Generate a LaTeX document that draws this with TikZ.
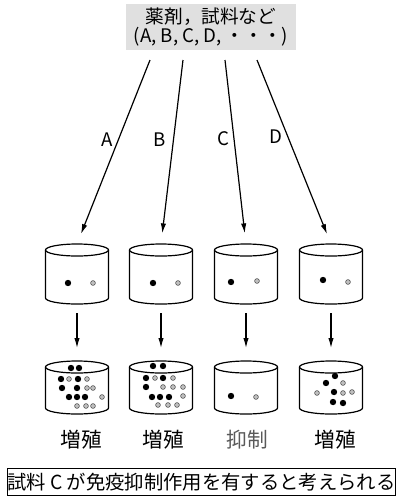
\documentclass[tikz,border=0pt]{standalone}
\usepackage{fontspec}
\setmainfont{Noto Sans CJK JP}
\usetikzlibrary{arrows.meta}

\tikzset{every picture/.style={line width=0.75pt}}

\begin{document}
\begin{tikzpicture}[x=0.75pt,y=0.75pt,yscale=-1,xscale=1,
	vial/.style={line width=0.9pt},
	arr/.style={-{Latex[length=7.5pt,width=4pt]}, line width=0.9pt},
	cell/.style={fill=black},
	spot/.style={draw=black!75, fill=black!25, line width=0.4pt},
	lbl/.style={font=\fontsize{15.5pt}{16pt}\selectfont},
	letter/.style={font=\fontsize{14pt}{15pt}\selectfont}]
	\useasboundingbox (0,0) rectangle (398,497);

	% samples on top
	\node [fill=black!12, inner xsep=6pt, inner ysep=3pt, align=center, font=\fontsize{14pt}{11.5pt}\selectfont] (src) at (211,27) {薬剤，試料など\\(A, B, C, D, ・・・)};
	\coordinate (sA) at (150,60);
	\coordinate (sB) at (183,60);
	\coordinate (sC) at (225,60);
	\coordinate (sD) at (257,60);

	% cultures before (upper row) and after (lower row)
	\foreach \n/\x in {1/77,2/161,3/246,4/331}{
		\draw [vial] (\x,250) ellipse [x radius=31.5, y radius=6];
		\draw [vial] (\x-31.5,250) -- (\x-31.5,298) arc [start angle=180, end angle=0, x radius=31.5, y radius=6] -- (\x+31.5,250);
		\draw [vial] (\x,367) ellipse [x radius=31.5, y radius=6];
		\draw [vial] (\x-31.5,367) -- (\x-31.5,408) arc [start angle=180, end angle=0, x radius=31.5, y radius=6] -- (\x+31.5,367);
		\coordinate (u\n) at (\x,244);
		\coordinate (v\n) at (\x,304);
		\coordinate (w\n) at (\x,361);
		\draw [arr, shorten <=6.75pt, shorten >=9.75pt] (v\n) -- (w\n);
	}

	\draw [arr, shorten >=8pt] (sA) -- (u1);
	\draw [arr, shorten >=8pt] (sB) -- (u2);
	\draw [arr, shorten >=8pt] (sC) -- (u3);
	\draw [arr, shorten >=8pt] (sD) -- (u4);

	\node [letter] (lA) at (107,140) {A};
	\node [letter] (lB) at (160,140) {B};
	\node [letter] (lC) at (223,139) {C};
	\node [letter] (lD) at (276,137) {D};

	% cells at the start
	\foreach \x/\y in {68/283,153/283,231/282,323/280}
		\fill [cell] (\x,\y) circle (3.2);
	\foreach \x/\y in {93/283,178/283,257/281,348/282}
		\draw [spot] (\x,\y) circle (2.4);

	% cells after culture
	\foreach \x/\y in {71/368,79/368,61/379,78/379,62/388,77/388,69/397,77/397,85/397,
		153/366,163/366,146/378,163/378,146/387,152/397,160/397,169/397,
		231/396,
		335/376,326/383,334/392,333/402,343/403}
		\fill [cell] (\x,\y) circle (3.2);
	\foreach \x/\y in {69/379,87/379,87/388,93/388,102/397,77/406,86/406,93/406,
		155/378,173/378,163/387,173/387,183/387,183/396,158/405,168/405,177/405,
		256/397,
		343/383,317/393,343/393,352/392}
		\draw [spot] (\x,\y) circle (2.4);

	\node [lbl] (r1) at (81,440) {増殖};
	\node [lbl] (r2) at (163,440) {増殖};
	\node [lbl, text=black!65] (r3) at (247,440) {抑制};
	\node [lbl] (r4) at (335,440) {増殖};

	% conclusion
	\node [draw, minimum width=288.75pt, minimum height=20pt, inner sep=0pt, font=\fontsize{14.5pt}{15pt}\selectfont] (note) at (201.5,482) {試料 C が免疫抑制作用を有すると考えられる};
\end{tikzpicture}
\end{document}
